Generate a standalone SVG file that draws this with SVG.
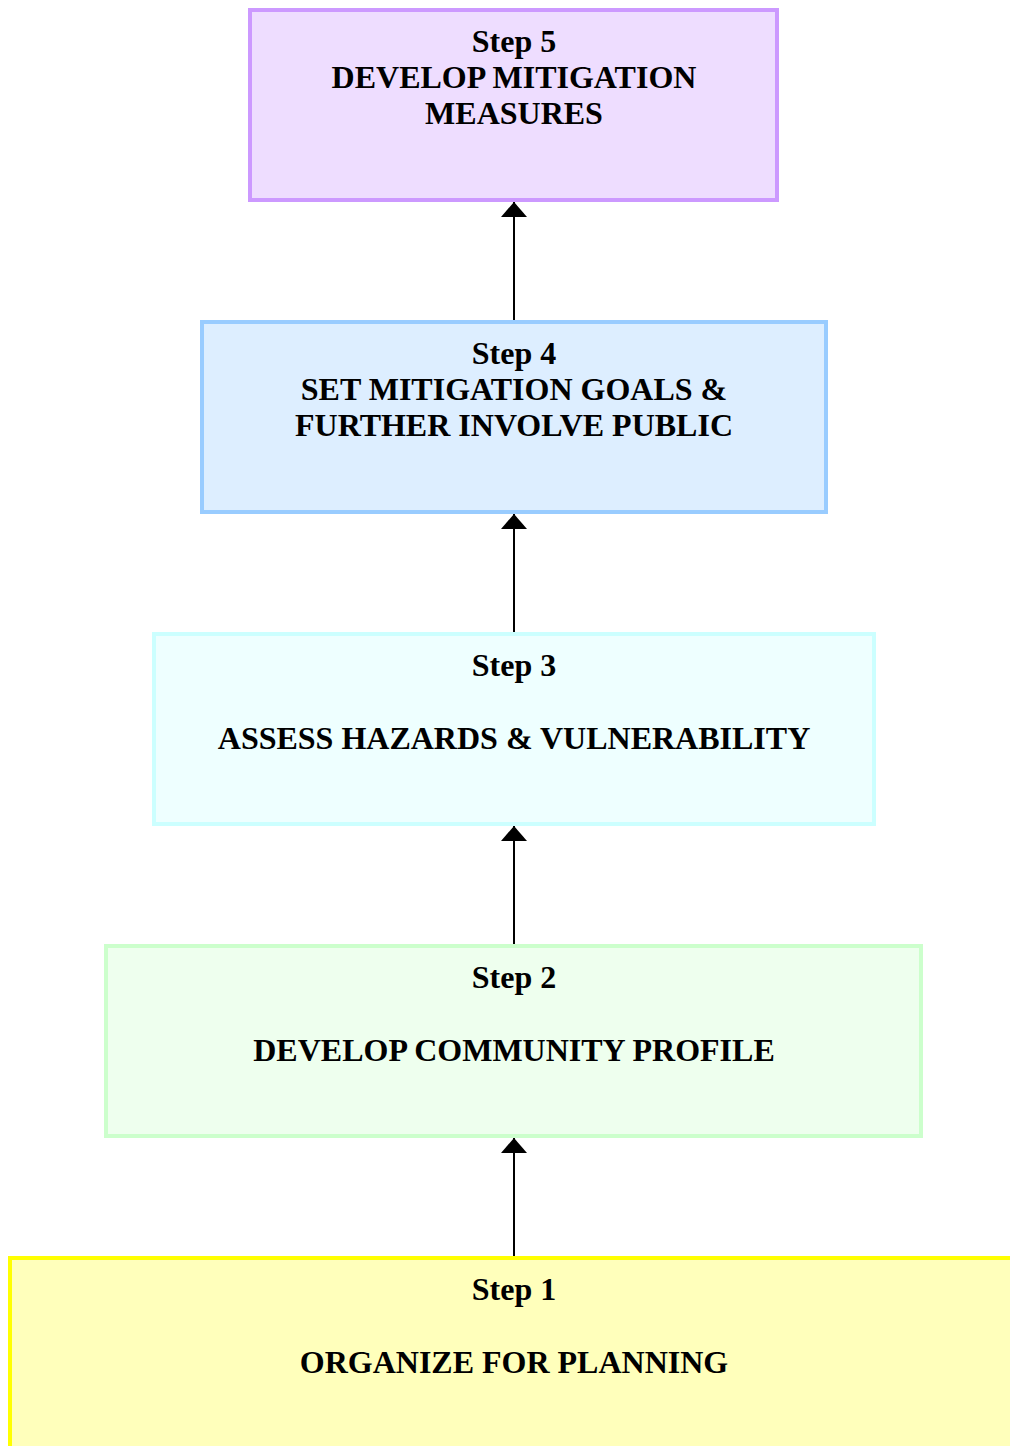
<svg xmlns="http://www.w3.org/2000/svg" width="1010" height="1446" viewBox="0 0 1010 1446">
<style>
text{font-family:"Liberation Serif","Times New Roman",serif;font-weight:bold;font-size:32px;fill:#000;text-anchor:middle}
.box{stroke-width:4}
.conn{stroke:#000;stroke-width:2;fill:none}
</style>
<defs>
<marker id="ah" viewBox="0 0 15 26" refX="15" refY="13" markerWidth="15" markerHeight="26" markerUnits="userSpaceOnUse" orient="auto">
<path d="M0,0 L15,13 L0,26 Z" fill="#000"/>
</marker>
</defs>
<rect width="1010" height="1446" fill="#fff"/>
<g id="connectors">
<line class="conn" x1="514" y1="1256" x2="514" y2="1138" marker-end="url(#ah)"/>
<line class="conn" x1="514" y1="944" x2="514" y2="826" marker-end="url(#ah)"/>
<line class="conn" x1="514" y1="632" x2="514" y2="514" marker-end="url(#ah)"/>
<line class="conn" x1="514" y1="320" x2="514" y2="202" marker-end="url(#ah)"/>
</g>
<g id="step5">
<rect class="box" x="250" y="10" width="527" height="190" fill="#EEDDFF" stroke="#CC99FF"/>
<text x="514" y="52">Step 5</text>
<text x="514" y="88">DEVELOP MITIGATION</text>
<text x="514" y="124">MEASURES</text>
</g>
<g id="step4">
<rect class="box" x="202" y="322" width="624" height="190" fill="#DDEEFF" stroke="#99CCFF"/>
<text x="514" y="364">Step 4</text>
<text x="514" y="400">SET MITIGATION GOALS &amp;</text>
<text x="514" y="436">FURTHER INVOLVE PUBLIC</text>
</g>
<g id="step3">
<rect class="box" x="154" y="634" width="720" height="190" fill="#EEFFFF" stroke="#CCFFFF"/>
<text x="514" y="676">Step 3</text>
<text x="514" y="749">ASSESS HAZARDS &amp; VULNERABILITY</text>
</g>
<g id="step2">
<rect class="box" x="106" y="946" width="815" height="190" fill="#EEFFEE" stroke="#CCFFCC"/>
<text x="514" y="988">Step 2</text>
<text x="514" y="1061">DEVELOP COMMUNITY PROFILE</text>
</g>
<g id="step1">
<rect class="box" x="10" y="1258" width="1010" height="200" fill="#FFFFBB" stroke="#FFFF00"/>
<text x="514" y="1300">Step 1</text>
<text x="514" y="1373">ORGANIZE FOR PLANNING</text>
</g>
</svg>
